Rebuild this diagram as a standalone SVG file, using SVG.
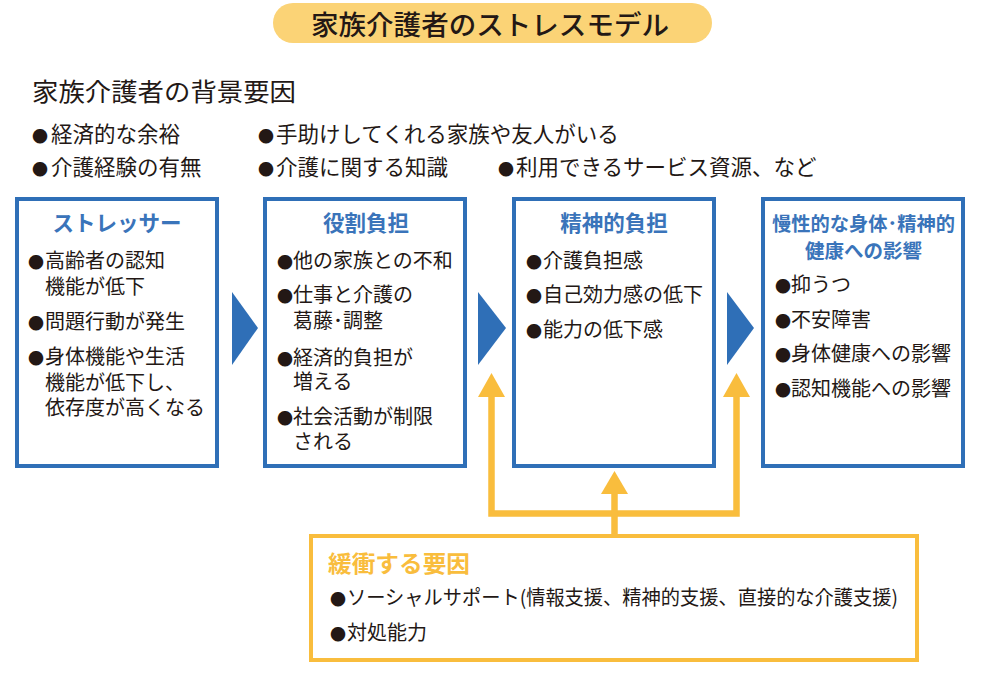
<svg xmlns="http://www.w3.org/2000/svg" width="989" height="681" viewBox="0 0 989 681">
<style>
text{font-family:"Noto Sans CJK JP","Noto Sans",sans-serif;fill:#231815}
.t{font-size:20px}
.h{font-size:21.5px}
.b{font-size:16px}
.bt{font-size:21.5px;font-weight:bold;fill:#3A74BA;text-anchor:middle}
.box{fill:#fff;stroke:#2F6FB7;stroke-width:4}
.ybox{fill:#fff;stroke:#F9BD3D;stroke-width:4}
.yl{fill:none;stroke:#F9BD3D;stroke-width:6.5}
.ya{fill:#F9BD3D}
.ba{fill:#2F6FB7}
</style>
<rect width="989" height="681" fill="#fff"/>
<g id="title">
<rect x="273" y="3" width="439" height="40" rx="20" fill="#FBD376"/>
<text x="490" y="35" font-size="27" font-weight="500" text-anchor="middle" textLength="358" lengthAdjust="spacingAndGlyphs">家族介護者のストレスモデル</text>
</g>
<g id="background">
<text x="32" y="101" font-size="25" textLength="264" lengthAdjust="spacingAndGlyphs">家族介護者の背景要因</text>
<text class="h" y="142"><tspan class="b" x="32">●</tspan><tspan x="51">経済的な余裕</tspan></text>
<text class="h" y="142"><tspan class="b" x="258">●</tspan><tspan x="276">手助けしてくれる家族や友人がいる</tspan></text>
<text class="h" y="175"><tspan class="b" x="32">●</tspan><tspan x="51">介護経験の有無</tspan></text>
<text class="h" y="175"><tspan class="b" x="258">●</tspan><tspan x="276">介護に関する知識</tspan></text>
<text class="h" y="175"><tspan class="b" x="498">●</tspan><tspan x="516">利用できるサービス資源、など</tspan></text>
</g>
<g id="connectors">
<polygon class="ba" points="232,292 258,328 232,365"/>
<polygon class="ba" points="478,292 506,328 478,365"/>
<polygon class="ba" points="727,292 754,328 727,365"/>
<polyline class="yl" points="491.5,396 491.5,513.5 736.5,513.5 736.5,396"/>
<line class="yl" x1="614.5" y1="536" x2="614.5" y2="492"/>
<polygon class="ya" points="478,397 491.5,373 505,397"/>
<polygon class="ya" points="723,397 736.5,373 750,397"/>
<polygon class="ya" points="601,494 614.5,471 628,494"/>
</g>
<g id="stressor">
<rect class="box" x="17" y="199" width="200" height="267"/>
<text class="bt" x="117" y="231">ストレッサー</text>
<text class="t" y="268"><tspan class="b" x="28">●</tspan><tspan x="45">高齢者の認知</tspan><tspan x="45" y="294">機能が低下</tspan></text>
<text class="t" y="329"><tspan class="b" x="28">●</tspan><tspan x="45">問題行動が発生</tspan></text>
<text class="t" y="364"><tspan class="b" x="28">●</tspan><tspan x="45">身体機能や生活</tspan><tspan x="45" y="390">機能が低下し、</tspan><tspan x="45" y="415">依存度が高くなる</tspan></text>
</g>
<g id="role">
<rect class="box" x="265" y="199" width="200" height="267"/>
<text class="bt" x="366" y="231">役割負担</text>
<text class="t" y="268"><tspan class="b" x="277">●</tspan><tspan x="293">他の家族との不和</tspan></text>
<text class="t" y="302"><tspan class="b" x="277">●</tspan><tspan x="293">仕事と介護の</tspan><tspan x="293" y="328">葛藤･調整</tspan></text>
<text class="t" y="365"><tspan class="b" x="277">●</tspan><tspan x="293">経済的負担が</tspan><tspan x="293" y="389">増える</tspan></text>
<text class="t" y="424"><tspan class="b" x="277">●</tspan><tspan x="293">社会活動が制限</tspan><tspan x="293" y="449">される</tspan></text>
</g>
<g id="mental">
<rect class="box" x="514" y="199" width="200" height="267"/>
<text class="bt" x="614" y="231">精神的負担</text>
<text class="t" y="268"><tspan class="b" x="526">●</tspan><tspan x="543">介護負担感</tspan></text>
<text class="t" y="302"><tspan class="b" x="526">●</tspan><tspan x="543">自己効力感の低下</tspan></text>
<text class="t" y="337"><tspan class="b" x="526">●</tspan><tspan x="543">能力の低下感</tspan></text>
</g>
<g id="health">
<rect class="box" x="763" y="199" width="200" height="267"/>
<text class="bt" font-size="19.5" style="font-size:19.5px"><tspan x="863.5" y="231" textLength="183" lengthAdjust="spacingAndGlyphs">慢性的な身体･精神的</tspan><tspan x="863.5" y="258">健康への影響</tspan></text>
<text class="t" y="292"><tspan class="b" x="775">●</tspan><tspan x="791">抑うつ</tspan></text>
<text class="t" y="327"><tspan class="b" x="775">●</tspan><tspan x="791">不安障害</tspan></text>
<text class="t" y="361"><tspan class="b" x="775">●</tspan><tspan x="791">身体健康への影響</tspan></text>
<text class="t" y="396"><tspan class="b" x="775">●</tspan><tspan x="791">認知機能への影響</tspan></text>
</g>
<g id="buffer">
<rect class="ybox" x="311" y="536" width="606" height="124"/>
<text x="328" y="572" font-size="23" font-weight="bold" style="fill:#F9BD3D" textLength="142" lengthAdjust="spacingAndGlyphs">緩衝する要因</text>
<text y="605" font-size="20"><tspan class="b" x="330">●</tspan><tspan x="347" textLength="551" lengthAdjust="spacingAndGlyphs">ソーシャルサポート(情報支援、精神的支援、直接的な介護支援)</tspan></text>
<text y="640" font-size="20"><tspan class="b" x="330">●</tspan><tspan x="347">対処能力</tspan></text>
</g>
</svg>
